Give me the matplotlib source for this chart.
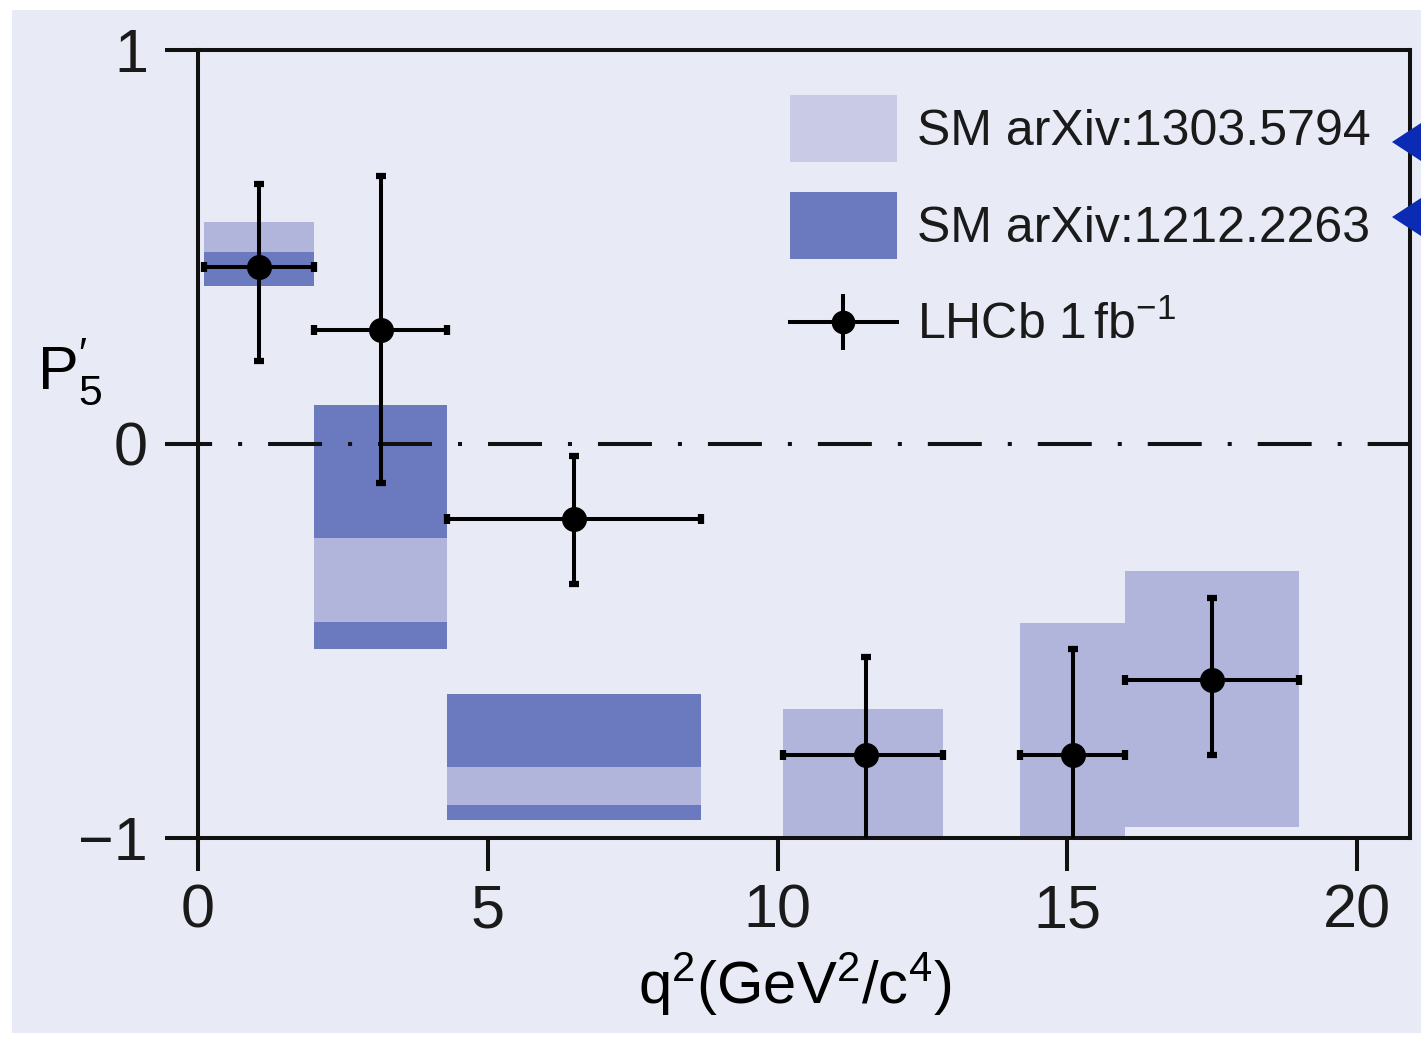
import matplotlib
matplotlib.use('Agg')
import matplotlib.pyplot as plt
from matplotlib.lines import Line2D
from matplotlib.patches import Patch, Polygon, Rectangle
from matplotlib.legend_handler import HandlerLine2D

# LHCb 1 fb^-1 measurement of P5'
q2_lo = [0.1, 2.0, 4.3, 10.09, 14.18, 16.0]
q2_hi = [2.0, 4.3, 8.68, 12.86, 16.0, 19.0]
q2_mid = [1.05, 3.16, 6.49, 11.53, 15.1, 17.5]
p5 = [0.45, 0.29, -0.19, -0.79, -0.79, -0.60]
p5_up = [0.21, 0.39, 0.16, 0.25, 0.27, 0.21]
p5_dn = [0.24, 0.39, 0.165, 0.25, 0.25, 0.19]

# SM arXiv:1212.2263 (dark boxes)
sm_b_lo = [0.1, 2.0, 4.3]
sm_b_hi = [2.0, 4.3, 8.68]
sm_b_min = [0.40, -0.52, -0.955]
sm_b_max = [0.487, 0.10, -0.635]

# SM arXiv:1303.5794 (light boxes)
sm_a_lo = [0.1, 2.0, 4.3, 10.09, 14.18, 16.0]
sm_a_hi = [2.0, 4.3, 8.68, 12.86, 16.0, 19.0]
sm_a_min = [0.487, -0.452, -0.916, -1.0, -1.0, -0.972]
sm_a_max = [0.563, -0.239, -0.82, -0.673, -0.454, -0.322]

x_ticks = [0, 5, 10, 15, 20]
y_ticks = [-1, 0, 1]

bg = '#e8ebf5'
light = '#b1b5db'
light_leg = '#c9cbe6'
dark = '#6b7abf'
ink = '#111111'
lw = 2.9

plt.rcParams['font.family'] = ['Liberation Sans', 'DejaVu Sans']
plt.rcParams['mathtext.fontset'] = 'custom'
plt.rcParams['mathtext.rm'] = 'Liberation Sans'
plt.rcParams['mathtext.it'] = 'Liberation Sans'
plt.rcParams['mathtext.sf'] = 'Liberation Sans'
plt.rcParams['text.color'] = '#1a1a1a'


class LowerLine(HandlerLine2D):
    # put the legend line in the middle of the handle box
    def create_artists(self, legend, orig_handle, xdescent, ydescent, width, height,
                       fontsize, trans):
        artists = super().create_artists(legend, orig_handle, xdescent, ydescent,
                                         width, height, fontsize, trans)
        for a in artists:
            a.set_ydata([y - ydescent / 2 for y in a.get_ydata()])
        return artists


fig = plt.figure(figsize=(14.21, 10.39), dpi=100)
fig.patch.set_facecolor('white')
fig.patches.append(Rectangle((12/1421, 6/1039), 1, 1 - 16/1039, transform=fig.transFigure,
                             facecolor=bg, edgecolor='none', zorder=-10))

ax = fig.add_axes([198/1421, 1 - 838/1039, 1212/1421, 788/1039])
ax.set_facecolor('none')

# theory boxes
ax.bar(sm_b_lo, [t - b for b, t in zip(sm_b_min, sm_b_max)],
       width=[h - l for l, h in zip(sm_b_lo, sm_b_hi)], bottom=sm_b_min,
       align='edge', color=dark, lw=0, zorder=1)
ax.bar(sm_a_lo, [t - b for b, t in zip(sm_a_min, sm_a_max)],
       width=[h - l for l, h in zip(sm_a_lo, sm_a_hi)], bottom=sm_a_min,
       align='edge', color=light, lw=0, zorder=1.5)

ax.axhline(0, color=ink, lw=lw, linestyle=(9.9, (13.4, 6.45, 1.0, 6.45)), zorder=2)

xerr = [[m - l for m, l in zip(q2_mid, q2_lo)], [h - m for m, h in zip(q2_mid, q2_hi)]]
ax.errorbar(q2_mid, p5, xerr=xerr, yerr=[p5_dn, p5_up], fmt='o', color='black',
            ms=17, elinewidth=lw, capsize=3.6, capthick=4.5, zorder=3)

ax.set_xlim(0, 20.91)
ax.set_ylim(-1, 1)
ax.set_xticks(x_ticks)
ax.set_yticks(y_ticks)
for s in ax.spines.values():
    s.set_linewidth(lw)
    s.set_color(ink)
ax.tick_params(direction='out', length=24, width=lw, color=ink, labelsize=44,
               labelcolor='#1a1a1a')
ax.tick_params(axis='x', pad=9)
ax.tick_params(axis='y', pad=12)

ax.set_xlabel(r'q$^2$(GeV$^2$/c$^4$)', fontsize=43, va='center')
ax.xaxis.set_label_coords(0.4926, -0.186)
ax.set_ylabel(r'P$_5^{\prime}$', fontsize=44, rotation=0, va='center', ha='center')
ax.yaxis.set_label_coords(-0.1056, 0.591)

# legend handles
eb_handle = (Line2D([], [], color='black', lw=lw, marker='o', ms=16),
             Line2D([], [], color='black', ls='none', marker='|', ms=41, mew=lw))
handles = [Patch(facecolor=light_leg, lw=0), Patch(facecolor=dark, lw=0), eb_handle]
labels = ['SM arXiv:1303.5794', 'SM arXiv:1212.2263', r'LHCb 1$\,$fb$^{-1}$']
ax.legend(handles, labels, loc='upper left', bbox_to_anchor=(0.4884, 0.943),
          frameon=False, fontsize=36, borderpad=0, borderaxespad=0, numpoints=1,
          handlelength=2.14, handleheight=1.685, handletextpad=0.4, labelspacing=0.6,
          handler_map={Line2D: LowerLine()})

# blue arrow heads cut at the right edge
for ty in [142, 217]:
    fig.patches.append(Polygon([[1392/1421, 1 - ty/1039], [1.0, 1 - (ty - 19)/1039],
                                [1.0, 1 - (ty + 19)/1039]], closed=True,
                               transform=fig.transFigure, facecolor='#0b2bb5',
                               edgecolor='none', zorder=10))

fig.savefig('out.png', dpi=100)
